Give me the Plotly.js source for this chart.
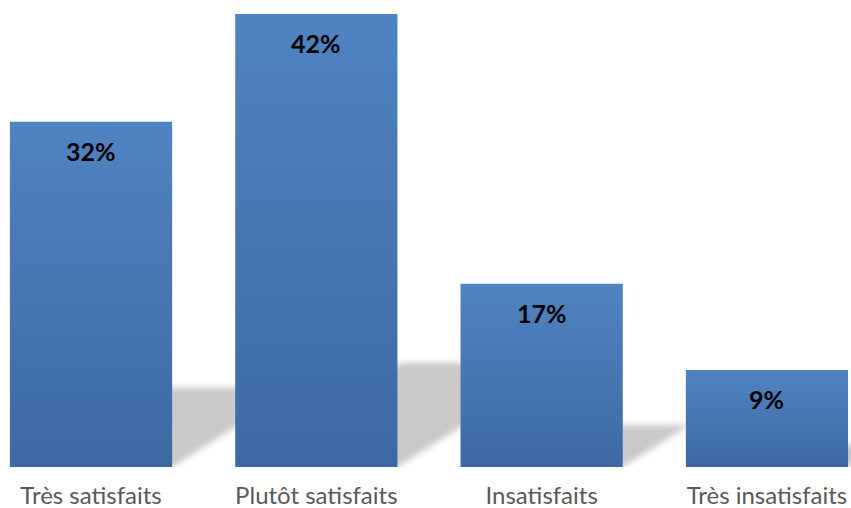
<!DOCTYPE html>
<html>
<head>
<meta charset="utf-8">
<script src="https://cdn.plot.ly/plotly-3.0.1.min.js"></script>
<style>
html,body{margin:0;padding:0;background:#fff;}
#chart{width:851px;height:508px;}
</style>
</head>
<body>
<div id="chart"></div>
<script>
const categories = ["Très satisfaits", "Plutôt satisfaits", "Insatisfaits", "Très insatisfaits"];
const values = [32, 42, 17, 9];
const valueLabels = ["32%", "42%", "17%", "9%"];

const bargap = 0.28;
const half = (1 - bargap) / 2;
const shadowH = 0.23;   // shadow height relative to bar value
const shadowDx = 0.0175; // horizontal skew per value unit (category units)

const shapes = values.map((v, i) => {
  const x0 = i - half, x1 = i + half, dx = shadowDx * v, h = shadowH * v;
  return {
    type: 'path', xref: 'x', yref: 'y', layer: 'below',
    path: `M ${x0},0 L ${x1},0 L ${x1 + dx},${h} L ${x0 + dx},${h} Z`,
    fillcolor: 'rgba(0,0,0,0.21)', line: {width: 0}
  };
});

const annotations = values.map((v, i) => ({
  x: categories[i], y: v, xref: 'x', yref: 'y', text: '<b>' + valueLabels[i] + '</b>',
  showarrow: false, yanchor: 'middle', yshift: -29,
  font: {family: 'Lato, sans-serif', size: 25, color: '#000000'}
}));

const trace = {
  type: 'bar', x: categories, y: values,
  marker: {color: '#4674b0', line: {width: 0}},
  hoverinfo: 'none'
};

const layout = {
  width: 851, height: 508,
  margin: {l: 0, r: 0, t: 14, b: 41, pad: 0},
  paper_bgcolor: '#ffffff', plot_bgcolor: '#ffffff',
  bargap: bargap,
  showlegend: false,
  xaxis: {
    type: 'category', range: [-0.404, 3.373], showgrid: false, zeroline: false, showline: false,
    ticks: '', ticklabelstandoff: 12,
    tickfont: {family: 'Lato, sans-serif', size: 24, color: '#595959'}
  },
  yaxis: {range: [0, 42], visible: false, showgrid: false, zeroline: false},
  shapes: shapes,
  annotations: annotations
};

Plotly.newPlot('chart', [trace], layout, {staticPlot: true, displayModeBar: false}).then(gd => {
  const svg = gd.querySelector('svg.main-svg');
  const ns = 'http://www.w3.org/2000/svg';
  let defs = svg.querySelector('defs');
  if (!defs) { defs = document.createElementNS(ns, 'defs'); svg.insertBefore(defs, svg.firstChild); }
  const grad = document.createElementNS(ns, 'linearGradient');
  grad.setAttribute('id', 'barGrad');
  grad.setAttribute('x1', '0'); grad.setAttribute('y1', '0');
  grad.setAttribute('x2', '0'); grad.setAttribute('y2', '1');
  [['0', '#5083c2'], ['1', '#3d69a2']].forEach(([o, c]) => {
    const s = document.createElementNS(ns, 'stop');
    s.setAttribute('offset', o); s.setAttribute('stop-color', c);
    grad.appendChild(s);
  });
  defs.appendChild(grad);
  gd.querySelectorAll('.bars .point path').forEach(p => { p.style.fill = 'url(#barGrad)'; });
  gd.querySelectorAll('.shapelayer path').forEach(p => { p.style.filter = 'blur(3px)'; });
});
</script>
</body>
</html>
